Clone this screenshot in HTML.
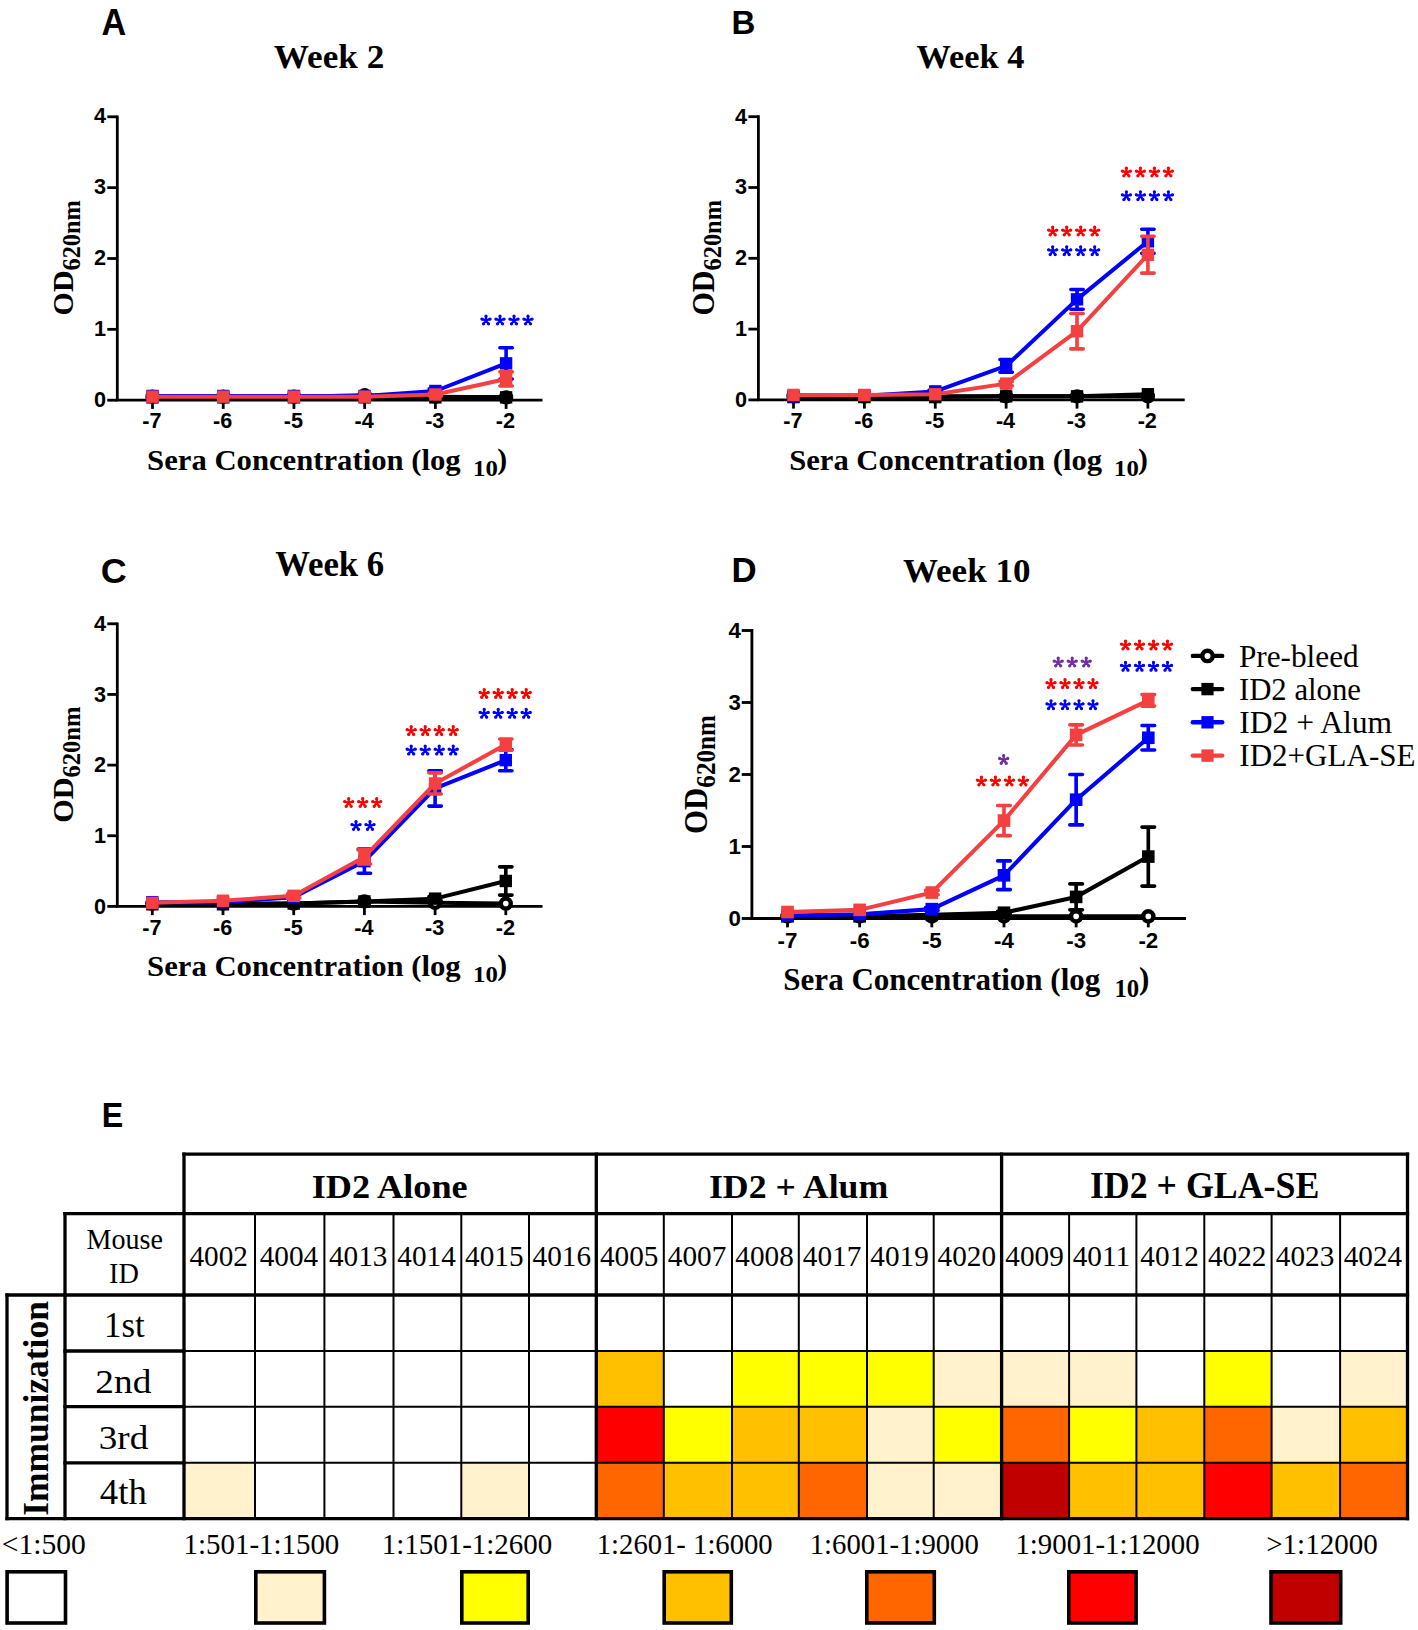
<!DOCTYPE html><html><head><meta charset="utf-8"><title>Figure</title><style>html,body{margin:0;padding:0;background:#fff;width:1418px;height:1630px;overflow:hidden}svg{display:block}</style></head><body>
<svg width="1418" height="1630" viewBox="0 0 1418 1630">
<rect width="1418" height="1630" fill="#fff"/>
<text transform="translate(101.50,34.60) scale(1.0043,1.0609)" font-family="Liberation Sans" font-weight="bold" font-size="34">A</text>
<text transform="translate(731.56,34.30) scale(0.9714,0.9783)" font-family="Liberation Sans" font-weight="bold" font-size="34">B</text>
<text transform="translate(100.64,583.30) scale(1.0591,1.0348)" font-family="Liberation Sans" font-weight="bold" font-size="34">C</text>
<text transform="translate(731.45,582.20) scale(1.0238,1.0087)" font-family="Liberation Sans" font-weight="bold" font-size="34">D</text>
<text transform="translate(101.71,1127.30) scale(0.9474,1.0522)" font-family="Liberation Sans" font-weight="bold" font-size="34">E</text>
<text transform="translate(273.79,68.00) scale(1.0056,0.9680)" font-family="Liberation Serif" font-weight="bold" font-size="35">Week 2</text>
<text transform="translate(916.52,68.20) scale(0.9815,0.9760)" font-family="Liberation Serif" font-weight="bold" font-size="35">Week 4</text>
<text transform="translate(275.21,576.10) scale(0.9926,1.0120)" font-family="Liberation Serif" font-weight="bold" font-size="35">Week 6</text>
<text transform="translate(902.90,582.20) scale(1.0024,0.9920)" font-family="Liberation Serif" font-weight="bold" font-size="35">Week 10</text>
<text transform="translate(72.70,315.43) scale(1.0423,1.0336) rotate(-90)" font-family="Liberation Serif" font-weight="bold" font-size="29">OD<tspan font-size="23.5" dy="7">620nm</tspan></text>
<text transform="translate(714.02,315.54) scale(1.0538,1.0373) rotate(-90)" font-family="Liberation Serif" font-weight="bold" font-size="29">OD<tspan font-size="23.5" dy="7">620nm</tspan></text>
<text transform="translate(72.70,822.84) scale(1.0423,1.0436) rotate(-90)" font-family="Liberation Serif" font-weight="bold" font-size="29">OD<tspan font-size="23.5" dy="7">620nm</tspan></text>
<text transform="translate(707.08,834.07) scale(1.1308,1.0673) rotate(-90)" font-family="Liberation Serif" font-weight="bold" font-size="29">OD<tspan font-size="23.5" dy="7">620nm</tspan></text>
<text transform="translate(147.08,469.82) scale(1.0588,1.0296)" font-family="Liberation Serif" font-weight="bold" font-size="29">Sera Concentration (log</text>
<text transform="translate(473.10,475.50) scale(1.1000,1.0600)" font-family="Liberation Serif" font-weight="bold" font-size="22.5">10</text>
<text transform="translate(789.19,469.82) scale(1.0561,1.0296)" font-family="Liberation Serif" font-weight="bold" font-size="29">Sera Concentration (log</text>
<text transform="translate(1114.10,475.50) scale(1.1000,1.0600)" font-family="Liberation Serif" font-weight="bold" font-size="22.5">10</text>
<text transform="translate(147.08,976.12) scale(1.0588,1.0296)" font-family="Liberation Serif" font-weight="bold" font-size="29">Sera Concentration (log</text>
<text transform="translate(473.10,981.80) scale(1.1000,1.0600)" font-family="Liberation Serif" font-weight="bold" font-size="22.5">10</text>
<text transform="translate(783.36,990.08) scale(1.0701,1.0704)" font-family="Liberation Serif" font-weight="bold" font-size="29">Sera Concentration (log</text>
<text transform="translate(1114.40,996.50) scale(1.1000,1.1000)" font-family="Liberation Serif" font-weight="bold" font-size="22.5">10</text>
<text transform="translate(497.21,468.96) scale(1.0231,1.0231)" font-family="Liberation Serif" font-weight="bold" font-size="29">)</text>
<text transform="translate(1137.91,468.96) scale(1.0231,1.0231)" font-family="Liberation Serif" font-weight="bold" font-size="29">)</text>
<text transform="translate(497.21,975.26) scale(1.0231,1.0231)" font-family="Liberation Serif" font-weight="bold" font-size="29">)</text>
<text transform="translate(1139.03,989.16) scale(1.0731,1.0731)" font-family="Liberation Serif" font-weight="bold" font-size="29">)</text>
<g stroke="#000" stroke-width="2.80" fill="none">
<path d="M117.30 115.40V400.20M115.90 400.20H542.50"/>
<path d="M107.30 400.20H117.30"/>
<path d="M107.30 329.35H117.30"/>
<path d="M107.30 258.50H117.30"/>
<path d="M107.30 187.65H117.30"/>
<path d="M107.30 116.80H117.30"/>
<path d="M152.50 400.20V408.90"/>
<path d="M223.22 400.20V408.90"/>
<path d="M293.94 400.20V408.90"/>
<path d="M364.66 400.20V408.90"/>
<path d="M435.38 400.20V408.90"/>
<path d="M506.10 400.20V408.90"/>
</g>
<g font-family="Liberation Sans" font-weight="bold" font-size="20" fill="#000">
<text transform="translate(93.98,406.70) scale(1.0830,1.0679)">0</text>
<text transform="translate(93.98,335.85) scale(1.0830,1.0679)">1</text>
<text transform="translate(93.98,265.00) scale(1.0830,1.0679)">2</text>
<text transform="translate(93.98,194.15) scale(1.0830,1.0679)">3</text>
<text transform="translate(93.98,123.30) scale(1.0830,1.0679)">4</text>
<text transform="translate(142.26,428.20) scale(1.0830,1.0679)">-7</text>
<text transform="translate(212.98,428.20) scale(1.0830,1.0679)">-6</text>
<text transform="translate(283.70,428.20) scale(1.0830,1.0679)">-5</text>
<text transform="translate(354.42,428.20) scale(1.0830,1.0679)">-4</text>
<text transform="translate(425.14,428.20) scale(1.0830,1.0679)">-3</text>
<text transform="translate(495.86,428.20) scale(1.0830,1.0679)">-2</text>
</g>
<polyline points="152.50,396.66 223.22,396.66 293.94,396.66 364.66,395.24 435.38,396.66 506.10,397.37" fill="none" stroke="#000000" stroke-width="4.00" stroke-linejoin="round"/>
<circle cx="152.50" cy="396.66" r="5.00" fill="#fff" stroke="#000" stroke-width="4.40"/>
<circle cx="223.22" cy="396.66" r="5.00" fill="#fff" stroke="#000" stroke-width="4.40"/>
<circle cx="293.94" cy="396.66" r="5.00" fill="#fff" stroke="#000" stroke-width="4.40"/>
<circle cx="364.66" cy="395.24" r="5.00" fill="#fff" stroke="#000" stroke-width="4.40"/>
<circle cx="435.38" cy="396.66" r="5.00" fill="#fff" stroke="#000" stroke-width="4.40"/>
<circle cx="506.10" cy="397.37" r="5.00" fill="#fff" stroke="#000" stroke-width="4.40"/>
<polyline points="152.50,397.37 223.22,397.37 293.94,397.37 364.66,397.37 435.38,397.37 506.10,397.37" fill="none" stroke="#000000" stroke-width="4.00" stroke-linejoin="round"/>
<rect x="146.30" y="391.17" width="12.40" height="12.40" fill="#000000"/>
<rect x="217.02" y="391.17" width="12.40" height="12.40" fill="#000000"/>
<rect x="287.74" y="391.17" width="12.40" height="12.40" fill="#000000"/>
<rect x="358.46" y="391.17" width="12.40" height="12.40" fill="#000000"/>
<rect x="429.18" y="391.17" width="12.40" height="12.40" fill="#000000"/>
<rect x="499.90" y="391.17" width="12.40" height="12.40" fill="#000000"/>
<polyline points="152.50,395.95 223.22,395.95 293.94,395.95 364.66,395.95 435.38,390.99 506.10,363.36" fill="none" stroke="#0000ff" stroke-width="4.00" stroke-linejoin="round"/>
<path d="M435.38 388.86V393.12M429.18 388.86H441.58M429.18 393.12H441.58M506.10 347.77V378.94M499.90 347.77H512.30M499.90 378.94H512.30" stroke="#0000ff" stroke-width="3.60" fill="none" stroke-linecap="round"/>
<rect x="146.30" y="389.75" width="12.40" height="12.40" fill="#0000ff"/>
<rect x="217.02" y="389.75" width="12.40" height="12.40" fill="#0000ff"/>
<rect x="287.74" y="389.75" width="12.40" height="12.40" fill="#0000ff"/>
<rect x="358.46" y="389.75" width="12.40" height="12.40" fill="#0000ff"/>
<rect x="429.18" y="384.79" width="12.40" height="12.40" fill="#0000ff"/>
<rect x="499.90" y="357.16" width="12.40" height="12.40" fill="#0000ff"/>
<polyline points="152.50,396.66 223.22,396.66 293.94,396.66 364.66,396.66 435.38,394.53 506.10,378.94" fill="none" stroke="#f44040" stroke-width="4.00" stroke-linejoin="round"/>
<path d="M435.38 393.12V395.95M429.18 393.12H441.58M429.18 395.95H441.58M506.10 371.86V386.03M499.90 371.86H512.30M499.90 386.03H512.30" stroke="#f44040" stroke-width="3.60" fill="none" stroke-linecap="round"/>
<rect x="146.30" y="390.46" width="12.40" height="12.40" fill="#f44040"/>
<rect x="217.02" y="390.46" width="12.40" height="12.40" fill="#f44040"/>
<rect x="287.74" y="390.46" width="12.40" height="12.40" fill="#f44040"/>
<rect x="358.46" y="390.46" width="12.40" height="12.40" fill="#f44040"/>
<rect x="429.18" y="388.33" width="12.40" height="12.40" fill="#f44040"/>
<rect x="499.90" y="372.75" width="12.40" height="12.40" fill="#f44040"/>
<g stroke="#000" stroke-width="2.80" fill="none">
<path d="M758.40 115.30V399.90M757.00 399.90H1184.70"/>
<path d="M748.40 399.90H758.40"/>
<path d="M748.40 329.10H758.40"/>
<path d="M748.40 258.30H758.40"/>
<path d="M748.40 187.50H758.40"/>
<path d="M748.40 116.70H758.40"/>
<path d="M793.50 399.90V408.60"/>
<path d="M864.38 399.90V408.60"/>
<path d="M935.26 399.90V408.60"/>
<path d="M1006.14 399.90V408.60"/>
<path d="M1077.02 399.90V408.60"/>
<path d="M1147.90 399.90V408.60"/>
</g>
<g font-family="Liberation Sans" font-weight="bold" font-size="20" fill="#000">
<text transform="translate(734.98,406.70) scale(1.0830,1.0679)">0</text>
<text transform="translate(734.98,335.90) scale(1.0830,1.0679)">1</text>
<text transform="translate(734.98,265.10) scale(1.0830,1.0679)">2</text>
<text transform="translate(734.98,194.30) scale(1.0830,1.0679)">3</text>
<text transform="translate(734.98,123.50) scale(1.0830,1.0679)">4</text>
<text transform="translate(783.26,428.20) scale(1.0830,1.0679)">-7</text>
<text transform="translate(854.14,428.20) scale(1.0830,1.0679)">-6</text>
<text transform="translate(925.02,428.20) scale(1.0830,1.0679)">-5</text>
<text transform="translate(995.90,428.20) scale(1.0830,1.0679)">-4</text>
<text transform="translate(1066.78,428.20) scale(1.0830,1.0679)">-3</text>
<text transform="translate(1137.66,428.20) scale(1.0830,1.0679)">-2</text>
</g>
<polyline points="793.50,396.36 864.38,396.36 935.26,396.36 1006.14,396.36 1077.02,396.36 1147.90,396.36" fill="none" stroke="#000000" stroke-width="4.00" stroke-linejoin="round"/>
<circle cx="793.50" cy="396.36" r="5.00" fill="#fff" stroke="#000" stroke-width="4.40"/>
<circle cx="864.38" cy="396.36" r="5.00" fill="#fff" stroke="#000" stroke-width="4.40"/>
<circle cx="935.26" cy="396.36" r="5.00" fill="#fff" stroke="#000" stroke-width="4.40"/>
<circle cx="1006.14" cy="396.36" r="5.00" fill="#fff" stroke="#000" stroke-width="4.40"/>
<circle cx="1077.02" cy="396.36" r="5.00" fill="#fff" stroke="#000" stroke-width="4.40"/>
<circle cx="1147.90" cy="396.36" r="5.00" fill="#fff" stroke="#000" stroke-width="4.40"/>
<polyline points="793.50,397.07 864.38,397.07 935.26,397.07 1006.14,396.36 1077.02,396.36 1147.90,394.24" fill="none" stroke="#000000" stroke-width="4.00" stroke-linejoin="round"/>
<rect x="787.30" y="390.87" width="12.40" height="12.40" fill="#000000"/>
<rect x="858.18" y="390.87" width="12.40" height="12.40" fill="#000000"/>
<rect x="929.06" y="390.87" width="12.40" height="12.40" fill="#000000"/>
<rect x="999.94" y="390.16" width="12.40" height="12.40" fill="#000000"/>
<rect x="1070.82" y="390.16" width="12.40" height="12.40" fill="#000000"/>
<rect x="1141.70" y="388.04" width="12.40" height="12.40" fill="#000000"/>
<polyline points="793.50,396.36 864.38,395.65 935.26,391.40 1006.14,365.92 1077.02,299.36 1147.90,241.31" fill="none" stroke="#0000ff" stroke-width="4.00" stroke-linejoin="round"/>
<path d="M935.26 389.99V392.82M929.06 389.99H941.46M929.06 392.82H941.46M1006.14 359.54V372.29M999.94 359.54H1012.34M999.94 372.29H1012.34M1077.02 289.45V309.28M1070.82 289.45H1083.22M1070.82 309.28H1083.22M1147.90 229.27V253.34M1141.70 229.27H1154.10M1141.70 253.34H1154.10" stroke="#0000ff" stroke-width="3.60" fill="none" stroke-linecap="round"/>
<rect x="787.30" y="390.16" width="12.40" height="12.40" fill="#0000ff"/>
<rect x="858.18" y="389.45" width="12.40" height="12.40" fill="#0000ff"/>
<rect x="929.06" y="385.20" width="12.40" height="12.40" fill="#0000ff"/>
<rect x="999.94" y="359.72" width="12.40" height="12.40" fill="#0000ff"/>
<rect x="1070.82" y="293.16" width="12.40" height="12.40" fill="#0000ff"/>
<rect x="1141.70" y="235.11" width="12.40" height="12.40" fill="#0000ff"/>
<polyline points="793.50,394.94 864.38,394.94 935.26,394.24 1006.14,383.62 1077.02,331.22 1147.90,254.76" fill="none" stroke="#f44040" stroke-width="4.00" stroke-linejoin="round"/>
<path d="M1006.14 381.49V385.74M999.94 381.49H1012.34M999.94 385.74H1012.34M1077.02 313.52V348.92M1070.82 313.52H1083.22M1070.82 348.92H1083.22M1147.90 236.35V273.17M1141.70 236.35H1154.10M1141.70 273.17H1154.10" stroke="#f44040" stroke-width="3.60" fill="none" stroke-linecap="round"/>
<rect x="787.30" y="388.74" width="12.40" height="12.40" fill="#f44040"/>
<rect x="858.18" y="388.74" width="12.40" height="12.40" fill="#f44040"/>
<rect x="929.06" y="388.04" width="12.40" height="12.40" fill="#f44040"/>
<rect x="999.94" y="377.42" width="12.40" height="12.40" fill="#f44040"/>
<rect x="1070.82" y="325.02" width="12.40" height="12.40" fill="#f44040"/>
<rect x="1141.70" y="248.56" width="12.40" height="12.40" fill="#f44040"/>
<g stroke="#000" stroke-width="2.80" fill="none">
<path d="M117.30 622.40V906.40M115.90 906.40H542.50"/>
<path d="M107.30 906.40H117.30"/>
<path d="M107.30 835.75H117.30"/>
<path d="M107.30 765.10H117.30"/>
<path d="M107.30 694.45H117.30"/>
<path d="M107.30 623.80H117.30"/>
<path d="M152.30 906.40V915.10"/>
<path d="M223.00 906.40V915.10"/>
<path d="M293.70 906.40V915.10"/>
<path d="M364.40 906.40V915.10"/>
<path d="M435.10 906.40V915.10"/>
<path d="M505.80 906.40V915.10"/>
</g>
<g font-family="Liberation Sans" font-weight="bold" font-size="20" fill="#000">
<text transform="translate(93.98,913.50) scale(1.0830,1.0679)">0</text>
<text transform="translate(93.98,842.85) scale(1.0830,1.0679)">1</text>
<text transform="translate(93.98,772.20) scale(1.0830,1.0679)">2</text>
<text transform="translate(93.98,701.55) scale(1.0830,1.0679)">3</text>
<text transform="translate(93.98,630.90) scale(1.0830,1.0679)">4</text>
<text transform="translate(142.26,935.00) scale(1.0830,1.0679)">-7</text>
<text transform="translate(212.96,935.00) scale(1.0830,1.0679)">-6</text>
<text transform="translate(283.66,935.00) scale(1.0830,1.0679)">-5</text>
<text transform="translate(354.36,935.00) scale(1.0830,1.0679)">-4</text>
<text transform="translate(425.06,935.00) scale(1.0830,1.0679)">-3</text>
<text transform="translate(495.76,935.00) scale(1.0830,1.0679)">-2</text>
</g>
<polyline points="152.30,903.57 223.00,903.57 293.70,903.57 364.40,901.45 435.10,902.87 505.80,903.57" fill="none" stroke="#000000" stroke-width="4.00" stroke-linejoin="round"/>
<circle cx="152.30" cy="903.57" r="5.00" fill="#fff" stroke="#000" stroke-width="4.40"/>
<circle cx="223.00" cy="903.57" r="5.00" fill="#fff" stroke="#000" stroke-width="4.40"/>
<circle cx="293.70" cy="903.57" r="5.00" fill="#fff" stroke="#000" stroke-width="4.40"/>
<circle cx="364.40" cy="901.45" r="5.00" fill="#fff" stroke="#000" stroke-width="4.40"/>
<circle cx="435.10" cy="902.87" r="5.00" fill="#fff" stroke="#000" stroke-width="4.40"/>
<circle cx="505.80" cy="903.57" r="5.00" fill="#fff" stroke="#000" stroke-width="4.40"/>
<polyline points="152.30,904.28 223.00,904.28 293.70,903.57 364.40,901.45 435.10,898.63 505.80,880.97" fill="none" stroke="#000000" stroke-width="4.00" stroke-linejoin="round"/>
<path d="M435.10 896.51V900.75M428.90 896.51H441.30M428.90 900.75H441.30M505.80 866.84V895.10M499.60 866.84H512.00M499.60 895.10H512.00" stroke="#000000" stroke-width="3.60" fill="none" stroke-linecap="round"/>
<rect x="146.10" y="898.08" width="12.40" height="12.40" fill="#000000"/>
<rect x="216.80" y="898.08" width="12.40" height="12.40" fill="#000000"/>
<rect x="287.50" y="897.37" width="12.40" height="12.40" fill="#000000"/>
<rect x="358.20" y="895.25" width="12.40" height="12.40" fill="#000000"/>
<rect x="428.90" y="892.43" width="12.40" height="12.40" fill="#000000"/>
<rect x="499.60" y="874.77" width="12.40" height="12.40" fill="#000000"/>
<polyline points="152.30,902.16 223.00,902.16 293.70,897.22 364.40,861.18 435.10,788.41 505.80,760.15" fill="none" stroke="#0000ff" stroke-width="4.00" stroke-linejoin="round"/>
<path d="M364.40 849.17V873.19M358.20 849.17H370.60M358.20 873.19H370.60M435.10 770.75V806.08M428.90 770.75H441.30M428.90 806.08H441.30M505.80 749.56V770.75M499.60 749.56H512.00M499.60 770.75H512.00" stroke="#0000ff" stroke-width="3.60" fill="none" stroke-linecap="round"/>
<rect x="146.10" y="895.96" width="12.40" height="12.40" fill="#0000ff"/>
<rect x="216.80" y="895.96" width="12.40" height="12.40" fill="#0000ff"/>
<rect x="287.50" y="891.02" width="12.40" height="12.40" fill="#0000ff"/>
<rect x="358.20" y="854.98" width="12.40" height="12.40" fill="#0000ff"/>
<rect x="428.90" y="782.21" width="12.40" height="12.40" fill="#0000ff"/>
<rect x="499.60" y="753.95" width="12.40" height="12.40" fill="#0000ff"/>
<polyline points="152.30,902.87 223.00,900.75 293.70,895.80 364.40,856.94 435.10,783.47 505.80,744.61" fill="none" stroke="#f44040" stroke-width="4.00" stroke-linejoin="round"/>
<path d="M293.70 893.68V897.92M287.50 893.68H299.90M287.50 897.92H299.90M364.40 849.88V864.01M358.20 849.88H370.60M358.20 864.01H370.60M435.10 772.87V794.07M428.90 772.87H441.30M428.90 794.07H441.30M505.80 738.96V750.26M499.60 738.96H512.00M499.60 750.26H512.00" stroke="#f44040" stroke-width="3.60" fill="none" stroke-linecap="round"/>
<rect x="146.10" y="896.67" width="12.40" height="12.40" fill="#f44040"/>
<rect x="216.80" y="894.55" width="12.40" height="12.40" fill="#f44040"/>
<rect x="287.50" y="889.60" width="12.40" height="12.40" fill="#f44040"/>
<rect x="358.20" y="850.74" width="12.40" height="12.40" fill="#f44040"/>
<rect x="428.90" y="777.27" width="12.40" height="12.40" fill="#f44040"/>
<rect x="499.60" y="738.41" width="12.40" height="12.40" fill="#f44040"/>
<g stroke="#000" stroke-width="2.85" fill="none">
<path d="M751.90 629.10V918.50M750.50 918.50H1186.00"/>
<path d="M741.73 918.50H751.90"/>
<path d="M741.73 846.50H751.90"/>
<path d="M741.73 774.50H751.90"/>
<path d="M741.73 702.50H751.90"/>
<path d="M741.73 630.50H751.90"/>
<path d="M787.50 918.50V927.35"/>
<path d="M859.66 918.50V927.35"/>
<path d="M931.82 918.50V927.35"/>
<path d="M1003.98 918.50V927.35"/>
<path d="M1076.14 918.50V927.35"/>
<path d="M1148.30 918.50V927.35"/>
</g>
<g font-family="Liberation Sans" font-weight="bold" font-size="20" fill="#000">
<text transform="translate(728.44,926.00) scale(1.1153,1.1214)">0</text>
<text transform="translate(728.44,854.00) scale(1.1153,1.1214)">1</text>
<text transform="translate(728.44,782.00) scale(1.1153,1.1214)">2</text>
<text transform="translate(728.44,710.00) scale(1.1153,1.1214)">3</text>
<text transform="translate(728.44,638.00) scale(1.1153,1.1214)">4</text>
<text transform="translate(777.62,948.00) scale(1.1153,1.1214)">-7</text>
<text transform="translate(849.78,948.00) scale(1.1153,1.1214)">-6</text>
<text transform="translate(921.94,948.00) scale(1.1153,1.1214)">-5</text>
<text transform="translate(994.11,948.00) scale(1.1153,1.1214)">-4</text>
<text transform="translate(1066.26,948.00) scale(1.1153,1.1214)">-3</text>
<text transform="translate(1138.42,948.00) scale(1.1153,1.1214)">-2</text>
</g>
<polyline points="787.50,916.34 859.66,916.34 931.82,916.34 1003.98,916.34 1076.14,916.34 1148.30,916.34" fill="none" stroke="#000000" stroke-width="4.07" stroke-linejoin="round"/>
<circle cx="787.50" cy="916.34" r="5.08" fill="#fff" stroke="#000" stroke-width="4.47"/>
<circle cx="859.66" cy="916.34" r="5.08" fill="#fff" stroke="#000" stroke-width="4.47"/>
<circle cx="931.82" cy="916.34" r="5.08" fill="#fff" stroke="#000" stroke-width="4.47"/>
<circle cx="1003.98" cy="916.34" r="5.08" fill="#fff" stroke="#000" stroke-width="4.47"/>
<circle cx="1076.14" cy="916.34" r="5.08" fill="#fff" stroke="#000" stroke-width="4.47"/>
<circle cx="1148.30" cy="916.34" r="5.08" fill="#fff" stroke="#000" stroke-width="4.47"/>
<polyline points="787.50,916.34 859.66,916.34 931.82,914.90 1003.98,912.74 1076.14,896.90 1148.30,856.58" fill="none" stroke="#000000" stroke-width="4.07" stroke-linejoin="round"/>
<path d="M1003.98 911.30V914.18M997.67 911.30H1010.29M997.67 914.18H1010.29M1076.14 883.94V909.86M1069.83 883.94H1082.45M1069.83 909.86H1082.45M1148.30 827.06V886.10M1141.99 827.06H1154.61M1141.99 886.10H1154.61" stroke="#000000" stroke-width="3.66" fill="none" stroke-linecap="round"/>
<rect x="781.19" y="910.03" width="12.61" height="12.61" fill="#000000"/>
<rect x="853.35" y="910.03" width="12.61" height="12.61" fill="#000000"/>
<rect x="925.51" y="908.59" width="12.61" height="12.61" fill="#000000"/>
<rect x="997.67" y="906.43" width="12.61" height="12.61" fill="#000000"/>
<rect x="1069.83" y="890.59" width="12.61" height="12.61" fill="#000000"/>
<rect x="1141.99" y="850.27" width="12.61" height="12.61" fill="#000000"/>
<polyline points="787.50,915.62 859.66,914.18 931.82,909.14 1003.98,875.30 1076.14,799.70 1148.30,737.78" fill="none" stroke="#0000ff" stroke-width="4.07" stroke-linejoin="round"/>
<path d="M931.82 907.70V910.58M925.51 907.70H938.13M925.51 910.58H938.13M1003.98 860.90V889.70M997.67 860.90H1010.29M997.67 889.70H1010.29M1076.14 774.50V824.90M1069.83 774.50H1082.45M1069.83 824.90H1082.45M1148.30 725.54V750.02M1141.99 725.54H1154.61M1141.99 750.02H1154.61" stroke="#0000ff" stroke-width="3.66" fill="none" stroke-linecap="round"/>
<rect x="781.19" y="909.31" width="12.61" height="12.61" fill="#0000ff"/>
<rect x="853.35" y="907.87" width="12.61" height="12.61" fill="#0000ff"/>
<rect x="925.51" y="902.83" width="12.61" height="12.61" fill="#0000ff"/>
<rect x="997.67" y="868.99" width="12.61" height="12.61" fill="#0000ff"/>
<rect x="1069.83" y="793.39" width="12.61" height="12.61" fill="#0000ff"/>
<rect x="1141.99" y="731.47" width="12.61" height="12.61" fill="#0000ff"/>
<polyline points="787.50,912.02 859.66,909.86 931.82,892.58 1003.98,820.58 1076.14,734.90 1148.30,700.34" fill="none" stroke="#f44040" stroke-width="4.07" stroke-linejoin="round"/>
<path d="M931.82 890.42V894.74M925.51 890.42H938.13M925.51 894.74H938.13M1003.98 805.46V835.70M997.67 805.46H1010.29M997.67 835.70H1010.29M1076.14 724.82V744.98M1069.83 724.82H1082.45M1069.83 744.98H1082.45M1148.30 694.58V706.10M1141.99 694.58H1154.61M1141.99 706.10H1154.61" stroke="#f44040" stroke-width="3.66" fill="none" stroke-linecap="round"/>
<rect x="781.19" y="905.71" width="12.61" height="12.61" fill="#f44040"/>
<rect x="853.35" y="903.55" width="12.61" height="12.61" fill="#f44040"/>
<rect x="925.51" y="886.27" width="12.61" height="12.61" fill="#f44040"/>
<rect x="997.67" y="814.27" width="12.61" height="12.61" fill="#f44040"/>
<rect x="1069.83" y="728.59" width="12.61" height="12.61" fill="#f44040"/>
<rect x="1141.99" y="694.03" width="12.61" height="12.61" fill="#f44040"/>
<path d="M486.00 320.40L486.00 316.15M486.00 320.40L490.04 319.09M486.00 320.40L488.50 323.84M486.00 320.40L483.50 323.84M486.00 320.40L481.96 319.09M500.00 320.40L500.00 316.15M500.00 320.40L504.04 319.09M500.00 320.40L502.50 323.84M500.00 320.40L497.50 323.84M500.00 320.40L495.96 319.09M514.00 320.40L514.00 316.15M514.00 320.40L518.04 319.09M514.00 320.40L516.50 323.84M514.00 320.40L511.50 323.84M514.00 320.40L509.96 319.09M528.00 320.40L528.00 316.15M528.00 320.40L532.04 319.09M528.00 320.40L530.50 323.84M528.00 320.40L525.50 323.84M528.00 320.40L523.96 319.09" stroke="#0000ff" stroke-width="2.3" stroke-linecap="round" fill="none"/><path d="M484.35 316.15a1.65 1.65 0 1 0 3.30 0a1.65 1.65 0 1 0 -3.30 0M488.39 319.09a1.65 1.65 0 1 0 3.30 0a1.65 1.65 0 1 0 -3.30 0M486.85 323.84a1.65 1.65 0 1 0 3.30 0a1.65 1.65 0 1 0 -3.30 0M481.85 323.84a1.65 1.65 0 1 0 3.30 0a1.65 1.65 0 1 0 -3.30 0M480.31 319.09a1.65 1.65 0 1 0 3.30 0a1.65 1.65 0 1 0 -3.30 0M498.35 316.15a1.65 1.65 0 1 0 3.30 0a1.65 1.65 0 1 0 -3.30 0M502.39 319.09a1.65 1.65 0 1 0 3.30 0a1.65 1.65 0 1 0 -3.30 0M500.85 323.84a1.65 1.65 0 1 0 3.30 0a1.65 1.65 0 1 0 -3.30 0M495.85 323.84a1.65 1.65 0 1 0 3.30 0a1.65 1.65 0 1 0 -3.30 0M494.31 319.09a1.65 1.65 0 1 0 3.30 0a1.65 1.65 0 1 0 -3.30 0M512.35 316.15a1.65 1.65 0 1 0 3.30 0a1.65 1.65 0 1 0 -3.30 0M516.39 319.09a1.65 1.65 0 1 0 3.30 0a1.65 1.65 0 1 0 -3.30 0M514.85 323.84a1.65 1.65 0 1 0 3.30 0a1.65 1.65 0 1 0 -3.30 0M509.85 323.84a1.65 1.65 0 1 0 3.30 0a1.65 1.65 0 1 0 -3.30 0M508.31 319.09a1.65 1.65 0 1 0 3.30 0a1.65 1.65 0 1 0 -3.30 0M526.35 316.15a1.65 1.65 0 1 0 3.30 0a1.65 1.65 0 1 0 -3.30 0M530.39 319.09a1.65 1.65 0 1 0 3.30 0a1.65 1.65 0 1 0 -3.30 0M528.85 323.84a1.65 1.65 0 1 0 3.30 0a1.65 1.65 0 1 0 -3.30 0M523.85 323.84a1.65 1.65 0 1 0 3.30 0a1.65 1.65 0 1 0 -3.30 0M522.31 319.09a1.65 1.65 0 1 0 3.30 0a1.65 1.65 0 1 0 -3.30 0" fill="#0000ff"/>
<path d="M1052.70 231.40L1052.70 227.15M1052.70 231.40L1056.74 230.09M1052.70 231.40L1055.20 234.84M1052.70 231.40L1050.20 234.84M1052.70 231.40L1048.66 230.09M1066.70 231.40L1066.70 227.15M1066.70 231.40L1070.74 230.09M1066.70 231.40L1069.20 234.84M1066.70 231.40L1064.20 234.84M1066.70 231.40L1062.66 230.09M1080.70 231.40L1080.70 227.15M1080.70 231.40L1084.74 230.09M1080.70 231.40L1083.20 234.84M1080.70 231.40L1078.20 234.84M1080.70 231.40L1076.66 230.09M1094.70 231.40L1094.70 227.15M1094.70 231.40L1098.74 230.09M1094.70 231.40L1097.20 234.84M1094.70 231.40L1092.20 234.84M1094.70 231.40L1090.66 230.09" stroke="#ff0000" stroke-width="2.3" stroke-linecap="round" fill="none"/><path d="M1051.05 227.15a1.65 1.65 0 1 0 3.30 0a1.65 1.65 0 1 0 -3.30 0M1055.09 230.09a1.65 1.65 0 1 0 3.30 0a1.65 1.65 0 1 0 -3.30 0M1053.55 234.84a1.65 1.65 0 1 0 3.30 0a1.65 1.65 0 1 0 -3.30 0M1048.55 234.84a1.65 1.65 0 1 0 3.30 0a1.65 1.65 0 1 0 -3.30 0M1047.01 230.09a1.65 1.65 0 1 0 3.30 0a1.65 1.65 0 1 0 -3.30 0M1065.05 227.15a1.65 1.65 0 1 0 3.30 0a1.65 1.65 0 1 0 -3.30 0M1069.09 230.09a1.65 1.65 0 1 0 3.30 0a1.65 1.65 0 1 0 -3.30 0M1067.55 234.84a1.65 1.65 0 1 0 3.30 0a1.65 1.65 0 1 0 -3.30 0M1062.55 234.84a1.65 1.65 0 1 0 3.30 0a1.65 1.65 0 1 0 -3.30 0M1061.01 230.09a1.65 1.65 0 1 0 3.30 0a1.65 1.65 0 1 0 -3.30 0M1079.05 227.15a1.65 1.65 0 1 0 3.30 0a1.65 1.65 0 1 0 -3.30 0M1083.09 230.09a1.65 1.65 0 1 0 3.30 0a1.65 1.65 0 1 0 -3.30 0M1081.55 234.84a1.65 1.65 0 1 0 3.30 0a1.65 1.65 0 1 0 -3.30 0M1076.55 234.84a1.65 1.65 0 1 0 3.30 0a1.65 1.65 0 1 0 -3.30 0M1075.01 230.09a1.65 1.65 0 1 0 3.30 0a1.65 1.65 0 1 0 -3.30 0M1093.05 227.15a1.65 1.65 0 1 0 3.30 0a1.65 1.65 0 1 0 -3.30 0M1097.09 230.09a1.65 1.65 0 1 0 3.30 0a1.65 1.65 0 1 0 -3.30 0M1095.55 234.84a1.65 1.65 0 1 0 3.30 0a1.65 1.65 0 1 0 -3.30 0M1090.55 234.84a1.65 1.65 0 1 0 3.30 0a1.65 1.65 0 1 0 -3.30 0M1089.01 230.09a1.65 1.65 0 1 0 3.30 0a1.65 1.65 0 1 0 -3.30 0" fill="#ff0000"/>
<path d="M1052.70 251.10L1052.70 246.85M1052.70 251.10L1056.74 249.79M1052.70 251.10L1055.20 254.54M1052.70 251.10L1050.20 254.54M1052.70 251.10L1048.66 249.79M1066.70 251.10L1066.70 246.85M1066.70 251.10L1070.74 249.79M1066.70 251.10L1069.20 254.54M1066.70 251.10L1064.20 254.54M1066.70 251.10L1062.66 249.79M1080.70 251.10L1080.70 246.85M1080.70 251.10L1084.74 249.79M1080.70 251.10L1083.20 254.54M1080.70 251.10L1078.20 254.54M1080.70 251.10L1076.66 249.79M1094.70 251.10L1094.70 246.85M1094.70 251.10L1098.74 249.79M1094.70 251.10L1097.20 254.54M1094.70 251.10L1092.20 254.54M1094.70 251.10L1090.66 249.79" stroke="#0000ff" stroke-width="2.3" stroke-linecap="round" fill="none"/><path d="M1051.05 246.85a1.65 1.65 0 1 0 3.30 0a1.65 1.65 0 1 0 -3.30 0M1055.09 249.79a1.65 1.65 0 1 0 3.30 0a1.65 1.65 0 1 0 -3.30 0M1053.55 254.54a1.65 1.65 0 1 0 3.30 0a1.65 1.65 0 1 0 -3.30 0M1048.55 254.54a1.65 1.65 0 1 0 3.30 0a1.65 1.65 0 1 0 -3.30 0M1047.01 249.79a1.65 1.65 0 1 0 3.30 0a1.65 1.65 0 1 0 -3.30 0M1065.05 246.85a1.65 1.65 0 1 0 3.30 0a1.65 1.65 0 1 0 -3.30 0M1069.09 249.79a1.65 1.65 0 1 0 3.30 0a1.65 1.65 0 1 0 -3.30 0M1067.55 254.54a1.65 1.65 0 1 0 3.30 0a1.65 1.65 0 1 0 -3.30 0M1062.55 254.54a1.65 1.65 0 1 0 3.30 0a1.65 1.65 0 1 0 -3.30 0M1061.01 249.79a1.65 1.65 0 1 0 3.30 0a1.65 1.65 0 1 0 -3.30 0M1079.05 246.85a1.65 1.65 0 1 0 3.30 0a1.65 1.65 0 1 0 -3.30 0M1083.09 249.79a1.65 1.65 0 1 0 3.30 0a1.65 1.65 0 1 0 -3.30 0M1081.55 254.54a1.65 1.65 0 1 0 3.30 0a1.65 1.65 0 1 0 -3.30 0M1076.55 254.54a1.65 1.65 0 1 0 3.30 0a1.65 1.65 0 1 0 -3.30 0M1075.01 249.79a1.65 1.65 0 1 0 3.30 0a1.65 1.65 0 1 0 -3.30 0M1093.05 246.85a1.65 1.65 0 1 0 3.30 0a1.65 1.65 0 1 0 -3.30 0M1097.09 249.79a1.65 1.65 0 1 0 3.30 0a1.65 1.65 0 1 0 -3.30 0M1095.55 254.54a1.65 1.65 0 1 0 3.30 0a1.65 1.65 0 1 0 -3.30 0M1090.55 254.54a1.65 1.65 0 1 0 3.30 0a1.65 1.65 0 1 0 -3.30 0M1089.01 249.79a1.65 1.65 0 1 0 3.30 0a1.65 1.65 0 1 0 -3.30 0" fill="#0000ff"/>
<path d="M1126.40 172.40L1126.40 168.15M1126.40 172.40L1130.44 171.09M1126.40 172.40L1128.90 175.84M1126.40 172.40L1123.90 175.84M1126.40 172.40L1122.36 171.09M1140.40 172.40L1140.40 168.15M1140.40 172.40L1144.44 171.09M1140.40 172.40L1142.90 175.84M1140.40 172.40L1137.90 175.84M1140.40 172.40L1136.36 171.09M1154.40 172.40L1154.40 168.15M1154.40 172.40L1158.44 171.09M1154.40 172.40L1156.90 175.84M1154.40 172.40L1151.90 175.84M1154.40 172.40L1150.36 171.09M1168.40 172.40L1168.40 168.15M1168.40 172.40L1172.44 171.09M1168.40 172.40L1170.90 175.84M1168.40 172.40L1165.90 175.84M1168.40 172.40L1164.36 171.09" stroke="#ff0000" stroke-width="2.3" stroke-linecap="round" fill="none"/><path d="M1124.75 168.15a1.65 1.65 0 1 0 3.30 0a1.65 1.65 0 1 0 -3.30 0M1128.79 171.09a1.65 1.65 0 1 0 3.30 0a1.65 1.65 0 1 0 -3.30 0M1127.25 175.84a1.65 1.65 0 1 0 3.30 0a1.65 1.65 0 1 0 -3.30 0M1122.25 175.84a1.65 1.65 0 1 0 3.30 0a1.65 1.65 0 1 0 -3.30 0M1120.71 171.09a1.65 1.65 0 1 0 3.30 0a1.65 1.65 0 1 0 -3.30 0M1138.75 168.15a1.65 1.65 0 1 0 3.30 0a1.65 1.65 0 1 0 -3.30 0M1142.79 171.09a1.65 1.65 0 1 0 3.30 0a1.65 1.65 0 1 0 -3.30 0M1141.25 175.84a1.65 1.65 0 1 0 3.30 0a1.65 1.65 0 1 0 -3.30 0M1136.25 175.84a1.65 1.65 0 1 0 3.30 0a1.65 1.65 0 1 0 -3.30 0M1134.71 171.09a1.65 1.65 0 1 0 3.30 0a1.65 1.65 0 1 0 -3.30 0M1152.75 168.15a1.65 1.65 0 1 0 3.30 0a1.65 1.65 0 1 0 -3.30 0M1156.79 171.09a1.65 1.65 0 1 0 3.30 0a1.65 1.65 0 1 0 -3.30 0M1155.25 175.84a1.65 1.65 0 1 0 3.30 0a1.65 1.65 0 1 0 -3.30 0M1150.25 175.84a1.65 1.65 0 1 0 3.30 0a1.65 1.65 0 1 0 -3.30 0M1148.71 171.09a1.65 1.65 0 1 0 3.30 0a1.65 1.65 0 1 0 -3.30 0M1166.75 168.15a1.65 1.65 0 1 0 3.30 0a1.65 1.65 0 1 0 -3.30 0M1170.79 171.09a1.65 1.65 0 1 0 3.30 0a1.65 1.65 0 1 0 -3.30 0M1169.25 175.84a1.65 1.65 0 1 0 3.30 0a1.65 1.65 0 1 0 -3.30 0M1164.25 175.84a1.65 1.65 0 1 0 3.30 0a1.65 1.65 0 1 0 -3.30 0M1162.71 171.09a1.65 1.65 0 1 0 3.30 0a1.65 1.65 0 1 0 -3.30 0" fill="#ff0000"/>
<path d="M1126.40 196.10L1126.40 191.85M1126.40 196.10L1130.44 194.79M1126.40 196.10L1128.90 199.54M1126.40 196.10L1123.90 199.54M1126.40 196.10L1122.36 194.79M1140.40 196.10L1140.40 191.85M1140.40 196.10L1144.44 194.79M1140.40 196.10L1142.90 199.54M1140.40 196.10L1137.90 199.54M1140.40 196.10L1136.36 194.79M1154.40 196.10L1154.40 191.85M1154.40 196.10L1158.44 194.79M1154.40 196.10L1156.90 199.54M1154.40 196.10L1151.90 199.54M1154.40 196.10L1150.36 194.79M1168.40 196.10L1168.40 191.85M1168.40 196.10L1172.44 194.79M1168.40 196.10L1170.90 199.54M1168.40 196.10L1165.90 199.54M1168.40 196.10L1164.36 194.79" stroke="#0000ff" stroke-width="2.3" stroke-linecap="round" fill="none"/><path d="M1124.75 191.85a1.65 1.65 0 1 0 3.30 0a1.65 1.65 0 1 0 -3.30 0M1128.79 194.79a1.65 1.65 0 1 0 3.30 0a1.65 1.65 0 1 0 -3.30 0M1127.25 199.54a1.65 1.65 0 1 0 3.30 0a1.65 1.65 0 1 0 -3.30 0M1122.25 199.54a1.65 1.65 0 1 0 3.30 0a1.65 1.65 0 1 0 -3.30 0M1120.71 194.79a1.65 1.65 0 1 0 3.30 0a1.65 1.65 0 1 0 -3.30 0M1138.75 191.85a1.65 1.65 0 1 0 3.30 0a1.65 1.65 0 1 0 -3.30 0M1142.79 194.79a1.65 1.65 0 1 0 3.30 0a1.65 1.65 0 1 0 -3.30 0M1141.25 199.54a1.65 1.65 0 1 0 3.30 0a1.65 1.65 0 1 0 -3.30 0M1136.25 199.54a1.65 1.65 0 1 0 3.30 0a1.65 1.65 0 1 0 -3.30 0M1134.71 194.79a1.65 1.65 0 1 0 3.30 0a1.65 1.65 0 1 0 -3.30 0M1152.75 191.85a1.65 1.65 0 1 0 3.30 0a1.65 1.65 0 1 0 -3.30 0M1156.79 194.79a1.65 1.65 0 1 0 3.30 0a1.65 1.65 0 1 0 -3.30 0M1155.25 199.54a1.65 1.65 0 1 0 3.30 0a1.65 1.65 0 1 0 -3.30 0M1150.25 199.54a1.65 1.65 0 1 0 3.30 0a1.65 1.65 0 1 0 -3.30 0M1148.71 194.79a1.65 1.65 0 1 0 3.30 0a1.65 1.65 0 1 0 -3.30 0M1166.75 191.85a1.65 1.65 0 1 0 3.30 0a1.65 1.65 0 1 0 -3.30 0M1170.79 194.79a1.65 1.65 0 1 0 3.30 0a1.65 1.65 0 1 0 -3.30 0M1169.25 199.54a1.65 1.65 0 1 0 3.30 0a1.65 1.65 0 1 0 -3.30 0M1164.25 199.54a1.65 1.65 0 1 0 3.30 0a1.65 1.65 0 1 0 -3.30 0M1162.71 194.79a1.65 1.65 0 1 0 3.30 0a1.65 1.65 0 1 0 -3.30 0" fill="#0000ff"/>
<path d="M348.70 802.90L348.70 798.65M348.70 802.90L352.74 801.59M348.70 802.90L351.20 806.34M348.70 802.90L346.20 806.34M348.70 802.90L344.66 801.59M362.70 802.90L362.70 798.65M362.70 802.90L366.74 801.59M362.70 802.90L365.20 806.34M362.70 802.90L360.20 806.34M362.70 802.90L358.66 801.59M376.70 802.90L376.70 798.65M376.70 802.90L380.74 801.59M376.70 802.90L379.20 806.34M376.70 802.90L374.20 806.34M376.70 802.90L372.66 801.59" stroke="#ff0000" stroke-width="2.3" stroke-linecap="round" fill="none"/><path d="M347.05 798.65a1.65 1.65 0 1 0 3.30 0a1.65 1.65 0 1 0 -3.30 0M351.09 801.59a1.65 1.65 0 1 0 3.30 0a1.65 1.65 0 1 0 -3.30 0M349.55 806.34a1.65 1.65 0 1 0 3.30 0a1.65 1.65 0 1 0 -3.30 0M344.55 806.34a1.65 1.65 0 1 0 3.30 0a1.65 1.65 0 1 0 -3.30 0M343.01 801.59a1.65 1.65 0 1 0 3.30 0a1.65 1.65 0 1 0 -3.30 0M361.05 798.65a1.65 1.65 0 1 0 3.30 0a1.65 1.65 0 1 0 -3.30 0M365.09 801.59a1.65 1.65 0 1 0 3.30 0a1.65 1.65 0 1 0 -3.30 0M363.55 806.34a1.65 1.65 0 1 0 3.30 0a1.65 1.65 0 1 0 -3.30 0M358.55 806.34a1.65 1.65 0 1 0 3.30 0a1.65 1.65 0 1 0 -3.30 0M357.01 801.59a1.65 1.65 0 1 0 3.30 0a1.65 1.65 0 1 0 -3.30 0M375.05 798.65a1.65 1.65 0 1 0 3.30 0a1.65 1.65 0 1 0 -3.30 0M379.09 801.59a1.65 1.65 0 1 0 3.30 0a1.65 1.65 0 1 0 -3.30 0M377.55 806.34a1.65 1.65 0 1 0 3.30 0a1.65 1.65 0 1 0 -3.30 0M372.55 806.34a1.65 1.65 0 1 0 3.30 0a1.65 1.65 0 1 0 -3.30 0M371.01 801.59a1.65 1.65 0 1 0 3.30 0a1.65 1.65 0 1 0 -3.30 0" fill="#ff0000"/>
<path d="M356.00 825.90L356.00 821.65M356.00 825.90L360.04 824.59M356.00 825.90L358.50 829.34M356.00 825.90L353.50 829.34M356.00 825.90L351.96 824.59M370.00 825.90L370.00 821.65M370.00 825.90L374.04 824.59M370.00 825.90L372.50 829.34M370.00 825.90L367.50 829.34M370.00 825.90L365.96 824.59" stroke="#0000ff" stroke-width="2.3" stroke-linecap="round" fill="none"/><path d="M354.35 821.65a1.65 1.65 0 1 0 3.30 0a1.65 1.65 0 1 0 -3.30 0M358.39 824.59a1.65 1.65 0 1 0 3.30 0a1.65 1.65 0 1 0 -3.30 0M356.85 829.34a1.65 1.65 0 1 0 3.30 0a1.65 1.65 0 1 0 -3.30 0M351.85 829.34a1.65 1.65 0 1 0 3.30 0a1.65 1.65 0 1 0 -3.30 0M350.31 824.59a1.65 1.65 0 1 0 3.30 0a1.65 1.65 0 1 0 -3.30 0M368.35 821.65a1.65 1.65 0 1 0 3.30 0a1.65 1.65 0 1 0 -3.30 0M372.39 824.59a1.65 1.65 0 1 0 3.30 0a1.65 1.65 0 1 0 -3.30 0M370.85 829.34a1.65 1.65 0 1 0 3.30 0a1.65 1.65 0 1 0 -3.30 0M365.85 829.34a1.65 1.65 0 1 0 3.30 0a1.65 1.65 0 1 0 -3.30 0M364.31 824.59a1.65 1.65 0 1 0 3.30 0a1.65 1.65 0 1 0 -3.30 0" fill="#0000ff"/>
<path d="M411.20 731.00L411.20 726.75M411.20 731.00L415.24 729.69M411.20 731.00L413.70 734.44M411.20 731.00L408.70 734.44M411.20 731.00L407.16 729.69M425.20 731.00L425.20 726.75M425.20 731.00L429.24 729.69M425.20 731.00L427.70 734.44M425.20 731.00L422.70 734.44M425.20 731.00L421.16 729.69M439.20 731.00L439.20 726.75M439.20 731.00L443.24 729.69M439.20 731.00L441.70 734.44M439.20 731.00L436.70 734.44M439.20 731.00L435.16 729.69M453.20 731.00L453.20 726.75M453.20 731.00L457.24 729.69M453.20 731.00L455.70 734.44M453.20 731.00L450.70 734.44M453.20 731.00L449.16 729.69" stroke="#ff0000" stroke-width="2.3" stroke-linecap="round" fill="none"/><path d="M409.55 726.75a1.65 1.65 0 1 0 3.30 0a1.65 1.65 0 1 0 -3.30 0M413.59 729.69a1.65 1.65 0 1 0 3.30 0a1.65 1.65 0 1 0 -3.30 0M412.05 734.44a1.65 1.65 0 1 0 3.30 0a1.65 1.65 0 1 0 -3.30 0M407.05 734.44a1.65 1.65 0 1 0 3.30 0a1.65 1.65 0 1 0 -3.30 0M405.51 729.69a1.65 1.65 0 1 0 3.30 0a1.65 1.65 0 1 0 -3.30 0M423.55 726.75a1.65 1.65 0 1 0 3.30 0a1.65 1.65 0 1 0 -3.30 0M427.59 729.69a1.65 1.65 0 1 0 3.30 0a1.65 1.65 0 1 0 -3.30 0M426.05 734.44a1.65 1.65 0 1 0 3.30 0a1.65 1.65 0 1 0 -3.30 0M421.05 734.44a1.65 1.65 0 1 0 3.30 0a1.65 1.65 0 1 0 -3.30 0M419.51 729.69a1.65 1.65 0 1 0 3.30 0a1.65 1.65 0 1 0 -3.30 0M437.55 726.75a1.65 1.65 0 1 0 3.30 0a1.65 1.65 0 1 0 -3.30 0M441.59 729.69a1.65 1.65 0 1 0 3.30 0a1.65 1.65 0 1 0 -3.30 0M440.05 734.44a1.65 1.65 0 1 0 3.30 0a1.65 1.65 0 1 0 -3.30 0M435.05 734.44a1.65 1.65 0 1 0 3.30 0a1.65 1.65 0 1 0 -3.30 0M433.51 729.69a1.65 1.65 0 1 0 3.30 0a1.65 1.65 0 1 0 -3.30 0M451.55 726.75a1.65 1.65 0 1 0 3.30 0a1.65 1.65 0 1 0 -3.30 0M455.59 729.69a1.65 1.65 0 1 0 3.30 0a1.65 1.65 0 1 0 -3.30 0M454.05 734.44a1.65 1.65 0 1 0 3.30 0a1.65 1.65 0 1 0 -3.30 0M449.05 734.44a1.65 1.65 0 1 0 3.30 0a1.65 1.65 0 1 0 -3.30 0M447.51 729.69a1.65 1.65 0 1 0 3.30 0a1.65 1.65 0 1 0 -3.30 0" fill="#ff0000"/>
<path d="M411.20 750.50L411.20 746.25M411.20 750.50L415.24 749.19M411.20 750.50L413.70 753.94M411.20 750.50L408.70 753.94M411.20 750.50L407.16 749.19M425.20 750.50L425.20 746.25M425.20 750.50L429.24 749.19M425.20 750.50L427.70 753.94M425.20 750.50L422.70 753.94M425.20 750.50L421.16 749.19M439.20 750.50L439.20 746.25M439.20 750.50L443.24 749.19M439.20 750.50L441.70 753.94M439.20 750.50L436.70 753.94M439.20 750.50L435.16 749.19M453.20 750.50L453.20 746.25M453.20 750.50L457.24 749.19M453.20 750.50L455.70 753.94M453.20 750.50L450.70 753.94M453.20 750.50L449.16 749.19" stroke="#0000ff" stroke-width="2.3" stroke-linecap="round" fill="none"/><path d="M409.55 746.25a1.65 1.65 0 1 0 3.30 0a1.65 1.65 0 1 0 -3.30 0M413.59 749.19a1.65 1.65 0 1 0 3.30 0a1.65 1.65 0 1 0 -3.30 0M412.05 753.94a1.65 1.65 0 1 0 3.30 0a1.65 1.65 0 1 0 -3.30 0M407.05 753.94a1.65 1.65 0 1 0 3.30 0a1.65 1.65 0 1 0 -3.30 0M405.51 749.19a1.65 1.65 0 1 0 3.30 0a1.65 1.65 0 1 0 -3.30 0M423.55 746.25a1.65 1.65 0 1 0 3.30 0a1.65 1.65 0 1 0 -3.30 0M427.59 749.19a1.65 1.65 0 1 0 3.30 0a1.65 1.65 0 1 0 -3.30 0M426.05 753.94a1.65 1.65 0 1 0 3.30 0a1.65 1.65 0 1 0 -3.30 0M421.05 753.94a1.65 1.65 0 1 0 3.30 0a1.65 1.65 0 1 0 -3.30 0M419.51 749.19a1.65 1.65 0 1 0 3.30 0a1.65 1.65 0 1 0 -3.30 0M437.55 746.25a1.65 1.65 0 1 0 3.30 0a1.65 1.65 0 1 0 -3.30 0M441.59 749.19a1.65 1.65 0 1 0 3.30 0a1.65 1.65 0 1 0 -3.30 0M440.05 753.94a1.65 1.65 0 1 0 3.30 0a1.65 1.65 0 1 0 -3.30 0M435.05 753.94a1.65 1.65 0 1 0 3.30 0a1.65 1.65 0 1 0 -3.30 0M433.51 749.19a1.65 1.65 0 1 0 3.30 0a1.65 1.65 0 1 0 -3.30 0M451.55 746.25a1.65 1.65 0 1 0 3.30 0a1.65 1.65 0 1 0 -3.30 0M455.59 749.19a1.65 1.65 0 1 0 3.30 0a1.65 1.65 0 1 0 -3.30 0M454.05 753.94a1.65 1.65 0 1 0 3.30 0a1.65 1.65 0 1 0 -3.30 0M449.05 753.94a1.65 1.65 0 1 0 3.30 0a1.65 1.65 0 1 0 -3.30 0M447.51 749.19a1.65 1.65 0 1 0 3.30 0a1.65 1.65 0 1 0 -3.30 0" fill="#0000ff"/>
<path d="M484.20 693.80L484.20 689.55M484.20 693.80L488.24 692.49M484.20 693.80L486.70 697.24M484.20 693.80L481.70 697.24M484.20 693.80L480.16 692.49M498.20 693.80L498.20 689.55M498.20 693.80L502.24 692.49M498.20 693.80L500.70 697.24M498.20 693.80L495.70 697.24M498.20 693.80L494.16 692.49M512.20 693.80L512.20 689.55M512.20 693.80L516.24 692.49M512.20 693.80L514.70 697.24M512.20 693.80L509.70 697.24M512.20 693.80L508.16 692.49M526.20 693.80L526.20 689.55M526.20 693.80L530.24 692.49M526.20 693.80L528.70 697.24M526.20 693.80L523.70 697.24M526.20 693.80L522.16 692.49" stroke="#ff0000" stroke-width="2.3" stroke-linecap="round" fill="none"/><path d="M482.55 689.55a1.65 1.65 0 1 0 3.30 0a1.65 1.65 0 1 0 -3.30 0M486.59 692.49a1.65 1.65 0 1 0 3.30 0a1.65 1.65 0 1 0 -3.30 0M485.05 697.24a1.65 1.65 0 1 0 3.30 0a1.65 1.65 0 1 0 -3.30 0M480.05 697.24a1.65 1.65 0 1 0 3.30 0a1.65 1.65 0 1 0 -3.30 0M478.51 692.49a1.65 1.65 0 1 0 3.30 0a1.65 1.65 0 1 0 -3.30 0M496.55 689.55a1.65 1.65 0 1 0 3.30 0a1.65 1.65 0 1 0 -3.30 0M500.59 692.49a1.65 1.65 0 1 0 3.30 0a1.65 1.65 0 1 0 -3.30 0M499.05 697.24a1.65 1.65 0 1 0 3.30 0a1.65 1.65 0 1 0 -3.30 0M494.05 697.24a1.65 1.65 0 1 0 3.30 0a1.65 1.65 0 1 0 -3.30 0M492.51 692.49a1.65 1.65 0 1 0 3.30 0a1.65 1.65 0 1 0 -3.30 0M510.55 689.55a1.65 1.65 0 1 0 3.30 0a1.65 1.65 0 1 0 -3.30 0M514.59 692.49a1.65 1.65 0 1 0 3.30 0a1.65 1.65 0 1 0 -3.30 0M513.05 697.24a1.65 1.65 0 1 0 3.30 0a1.65 1.65 0 1 0 -3.30 0M508.05 697.24a1.65 1.65 0 1 0 3.30 0a1.65 1.65 0 1 0 -3.30 0M506.51 692.49a1.65 1.65 0 1 0 3.30 0a1.65 1.65 0 1 0 -3.30 0M524.55 689.55a1.65 1.65 0 1 0 3.30 0a1.65 1.65 0 1 0 -3.30 0M528.59 692.49a1.65 1.65 0 1 0 3.30 0a1.65 1.65 0 1 0 -3.30 0M527.05 697.24a1.65 1.65 0 1 0 3.30 0a1.65 1.65 0 1 0 -3.30 0M522.05 697.24a1.65 1.65 0 1 0 3.30 0a1.65 1.65 0 1 0 -3.30 0M520.51 692.49a1.65 1.65 0 1 0 3.30 0a1.65 1.65 0 1 0 -3.30 0" fill="#ff0000"/>
<path d="M484.20 713.70L484.20 709.45M484.20 713.70L488.24 712.39M484.20 713.70L486.70 717.14M484.20 713.70L481.70 717.14M484.20 713.70L480.16 712.39M498.20 713.70L498.20 709.45M498.20 713.70L502.24 712.39M498.20 713.70L500.70 717.14M498.20 713.70L495.70 717.14M498.20 713.70L494.16 712.39M512.20 713.70L512.20 709.45M512.20 713.70L516.24 712.39M512.20 713.70L514.70 717.14M512.20 713.70L509.70 717.14M512.20 713.70L508.16 712.39M526.20 713.70L526.20 709.45M526.20 713.70L530.24 712.39M526.20 713.70L528.70 717.14M526.20 713.70L523.70 717.14M526.20 713.70L522.16 712.39" stroke="#0000ff" stroke-width="2.3" stroke-linecap="round" fill="none"/><path d="M482.55 709.45a1.65 1.65 0 1 0 3.30 0a1.65 1.65 0 1 0 -3.30 0M486.59 712.39a1.65 1.65 0 1 0 3.30 0a1.65 1.65 0 1 0 -3.30 0M485.05 717.14a1.65 1.65 0 1 0 3.30 0a1.65 1.65 0 1 0 -3.30 0M480.05 717.14a1.65 1.65 0 1 0 3.30 0a1.65 1.65 0 1 0 -3.30 0M478.51 712.39a1.65 1.65 0 1 0 3.30 0a1.65 1.65 0 1 0 -3.30 0M496.55 709.45a1.65 1.65 0 1 0 3.30 0a1.65 1.65 0 1 0 -3.30 0M500.59 712.39a1.65 1.65 0 1 0 3.30 0a1.65 1.65 0 1 0 -3.30 0M499.05 717.14a1.65 1.65 0 1 0 3.30 0a1.65 1.65 0 1 0 -3.30 0M494.05 717.14a1.65 1.65 0 1 0 3.30 0a1.65 1.65 0 1 0 -3.30 0M492.51 712.39a1.65 1.65 0 1 0 3.30 0a1.65 1.65 0 1 0 -3.30 0M510.55 709.45a1.65 1.65 0 1 0 3.30 0a1.65 1.65 0 1 0 -3.30 0M514.59 712.39a1.65 1.65 0 1 0 3.30 0a1.65 1.65 0 1 0 -3.30 0M513.05 717.14a1.65 1.65 0 1 0 3.30 0a1.65 1.65 0 1 0 -3.30 0M508.05 717.14a1.65 1.65 0 1 0 3.30 0a1.65 1.65 0 1 0 -3.30 0M506.51 712.39a1.65 1.65 0 1 0 3.30 0a1.65 1.65 0 1 0 -3.30 0M524.55 709.45a1.65 1.65 0 1 0 3.30 0a1.65 1.65 0 1 0 -3.30 0M528.59 712.39a1.65 1.65 0 1 0 3.30 0a1.65 1.65 0 1 0 -3.30 0M527.05 717.14a1.65 1.65 0 1 0 3.30 0a1.65 1.65 0 1 0 -3.30 0M522.05 717.14a1.65 1.65 0 1 0 3.30 0a1.65 1.65 0 1 0 -3.30 0M520.51 712.39a1.65 1.65 0 1 0 3.30 0a1.65 1.65 0 1 0 -3.30 0" fill="#0000ff"/>
<path d="M1003.70 759.80L1003.70 755.55M1003.70 759.80L1007.74 758.49M1003.70 759.80L1006.20 763.24M1003.70 759.80L1001.20 763.24M1003.70 759.80L999.66 758.49" stroke="#7030a0" stroke-width="2.3" stroke-linecap="round" fill="none"/><path d="M1002.05 755.55a1.65 1.65 0 1 0 3.30 0a1.65 1.65 0 1 0 -3.30 0M1006.09 758.49a1.65 1.65 0 1 0 3.30 0a1.65 1.65 0 1 0 -3.30 0M1004.55 763.24a1.65 1.65 0 1 0 3.30 0a1.65 1.65 0 1 0 -3.30 0M999.55 763.24a1.65 1.65 0 1 0 3.30 0a1.65 1.65 0 1 0 -3.30 0M998.01 758.49a1.65 1.65 0 1 0 3.30 0a1.65 1.65 0 1 0 -3.30 0" fill="#7030a0"/>
<path d="M981.40 781.40L981.40 777.15M981.40 781.40L985.44 780.09M981.40 781.40L983.90 784.84M981.40 781.40L978.90 784.84M981.40 781.40L977.36 780.09M995.40 781.40L995.40 777.15M995.40 781.40L999.44 780.09M995.40 781.40L997.90 784.84M995.40 781.40L992.90 784.84M995.40 781.40L991.36 780.09M1009.40 781.40L1009.40 777.15M1009.40 781.40L1013.44 780.09M1009.40 781.40L1011.90 784.84M1009.40 781.40L1006.90 784.84M1009.40 781.40L1005.36 780.09M1023.40 781.40L1023.40 777.15M1023.40 781.40L1027.44 780.09M1023.40 781.40L1025.90 784.84M1023.40 781.40L1020.90 784.84M1023.40 781.40L1019.36 780.09" stroke="#ff0000" stroke-width="2.3" stroke-linecap="round" fill="none"/><path d="M979.75 777.15a1.65 1.65 0 1 0 3.30 0a1.65 1.65 0 1 0 -3.30 0M983.79 780.09a1.65 1.65 0 1 0 3.30 0a1.65 1.65 0 1 0 -3.30 0M982.25 784.84a1.65 1.65 0 1 0 3.30 0a1.65 1.65 0 1 0 -3.30 0M977.25 784.84a1.65 1.65 0 1 0 3.30 0a1.65 1.65 0 1 0 -3.30 0M975.71 780.09a1.65 1.65 0 1 0 3.30 0a1.65 1.65 0 1 0 -3.30 0M993.75 777.15a1.65 1.65 0 1 0 3.30 0a1.65 1.65 0 1 0 -3.30 0M997.79 780.09a1.65 1.65 0 1 0 3.30 0a1.65 1.65 0 1 0 -3.30 0M996.25 784.84a1.65 1.65 0 1 0 3.30 0a1.65 1.65 0 1 0 -3.30 0M991.25 784.84a1.65 1.65 0 1 0 3.30 0a1.65 1.65 0 1 0 -3.30 0M989.71 780.09a1.65 1.65 0 1 0 3.30 0a1.65 1.65 0 1 0 -3.30 0M1007.75 777.15a1.65 1.65 0 1 0 3.30 0a1.65 1.65 0 1 0 -3.30 0M1011.79 780.09a1.65 1.65 0 1 0 3.30 0a1.65 1.65 0 1 0 -3.30 0M1010.25 784.84a1.65 1.65 0 1 0 3.30 0a1.65 1.65 0 1 0 -3.30 0M1005.25 784.84a1.65 1.65 0 1 0 3.30 0a1.65 1.65 0 1 0 -3.30 0M1003.71 780.09a1.65 1.65 0 1 0 3.30 0a1.65 1.65 0 1 0 -3.30 0M1021.75 777.15a1.65 1.65 0 1 0 3.30 0a1.65 1.65 0 1 0 -3.30 0M1025.79 780.09a1.65 1.65 0 1 0 3.30 0a1.65 1.65 0 1 0 -3.30 0M1024.25 784.84a1.65 1.65 0 1 0 3.30 0a1.65 1.65 0 1 0 -3.30 0M1019.25 784.84a1.65 1.65 0 1 0 3.30 0a1.65 1.65 0 1 0 -3.30 0M1017.71 780.09a1.65 1.65 0 1 0 3.30 0a1.65 1.65 0 1 0 -3.30 0" fill="#ff0000"/>
<path d="M1058.20 662.40L1058.20 658.15M1058.20 662.40L1062.24 661.09M1058.20 662.40L1060.70 665.84M1058.20 662.40L1055.70 665.84M1058.20 662.40L1054.16 661.09M1072.20 662.40L1072.20 658.15M1072.20 662.40L1076.24 661.09M1072.20 662.40L1074.70 665.84M1072.20 662.40L1069.70 665.84M1072.20 662.40L1068.16 661.09M1086.20 662.40L1086.20 658.15M1086.20 662.40L1090.24 661.09M1086.20 662.40L1088.70 665.84M1086.20 662.40L1083.70 665.84M1086.20 662.40L1082.16 661.09" stroke="#7030a0" stroke-width="2.3" stroke-linecap="round" fill="none"/><path d="M1056.55 658.15a1.65 1.65 0 1 0 3.30 0a1.65 1.65 0 1 0 -3.30 0M1060.59 661.09a1.65 1.65 0 1 0 3.30 0a1.65 1.65 0 1 0 -3.30 0M1059.05 665.84a1.65 1.65 0 1 0 3.30 0a1.65 1.65 0 1 0 -3.30 0M1054.05 665.84a1.65 1.65 0 1 0 3.30 0a1.65 1.65 0 1 0 -3.30 0M1052.51 661.09a1.65 1.65 0 1 0 3.30 0a1.65 1.65 0 1 0 -3.30 0M1070.55 658.15a1.65 1.65 0 1 0 3.30 0a1.65 1.65 0 1 0 -3.30 0M1074.59 661.09a1.65 1.65 0 1 0 3.30 0a1.65 1.65 0 1 0 -3.30 0M1073.05 665.84a1.65 1.65 0 1 0 3.30 0a1.65 1.65 0 1 0 -3.30 0M1068.05 665.84a1.65 1.65 0 1 0 3.30 0a1.65 1.65 0 1 0 -3.30 0M1066.51 661.09a1.65 1.65 0 1 0 3.30 0a1.65 1.65 0 1 0 -3.30 0M1084.55 658.15a1.65 1.65 0 1 0 3.30 0a1.65 1.65 0 1 0 -3.30 0M1088.59 661.09a1.65 1.65 0 1 0 3.30 0a1.65 1.65 0 1 0 -3.30 0M1087.05 665.84a1.65 1.65 0 1 0 3.30 0a1.65 1.65 0 1 0 -3.30 0M1082.05 665.84a1.65 1.65 0 1 0 3.30 0a1.65 1.65 0 1 0 -3.30 0M1080.51 661.09a1.65 1.65 0 1 0 3.30 0a1.65 1.65 0 1 0 -3.30 0" fill="#7030a0"/>
<path d="M1051.00 684.00L1051.00 679.75M1051.00 684.00L1055.04 682.69M1051.00 684.00L1053.50 687.44M1051.00 684.00L1048.50 687.44M1051.00 684.00L1046.96 682.69M1065.00 684.00L1065.00 679.75M1065.00 684.00L1069.04 682.69M1065.00 684.00L1067.50 687.44M1065.00 684.00L1062.50 687.44M1065.00 684.00L1060.96 682.69M1079.00 684.00L1079.00 679.75M1079.00 684.00L1083.04 682.69M1079.00 684.00L1081.50 687.44M1079.00 684.00L1076.50 687.44M1079.00 684.00L1074.96 682.69M1093.00 684.00L1093.00 679.75M1093.00 684.00L1097.04 682.69M1093.00 684.00L1095.50 687.44M1093.00 684.00L1090.50 687.44M1093.00 684.00L1088.96 682.69" stroke="#ff0000" stroke-width="2.3" stroke-linecap="round" fill="none"/><path d="M1049.35 679.75a1.65 1.65 0 1 0 3.30 0a1.65 1.65 0 1 0 -3.30 0M1053.39 682.69a1.65 1.65 0 1 0 3.30 0a1.65 1.65 0 1 0 -3.30 0M1051.85 687.44a1.65 1.65 0 1 0 3.30 0a1.65 1.65 0 1 0 -3.30 0M1046.85 687.44a1.65 1.65 0 1 0 3.30 0a1.65 1.65 0 1 0 -3.30 0M1045.31 682.69a1.65 1.65 0 1 0 3.30 0a1.65 1.65 0 1 0 -3.30 0M1063.35 679.75a1.65 1.65 0 1 0 3.30 0a1.65 1.65 0 1 0 -3.30 0M1067.39 682.69a1.65 1.65 0 1 0 3.30 0a1.65 1.65 0 1 0 -3.30 0M1065.85 687.44a1.65 1.65 0 1 0 3.30 0a1.65 1.65 0 1 0 -3.30 0M1060.85 687.44a1.65 1.65 0 1 0 3.30 0a1.65 1.65 0 1 0 -3.30 0M1059.31 682.69a1.65 1.65 0 1 0 3.30 0a1.65 1.65 0 1 0 -3.30 0M1077.35 679.75a1.65 1.65 0 1 0 3.30 0a1.65 1.65 0 1 0 -3.30 0M1081.39 682.69a1.65 1.65 0 1 0 3.30 0a1.65 1.65 0 1 0 -3.30 0M1079.85 687.44a1.65 1.65 0 1 0 3.30 0a1.65 1.65 0 1 0 -3.30 0M1074.85 687.44a1.65 1.65 0 1 0 3.30 0a1.65 1.65 0 1 0 -3.30 0M1073.31 682.69a1.65 1.65 0 1 0 3.30 0a1.65 1.65 0 1 0 -3.30 0M1091.35 679.75a1.65 1.65 0 1 0 3.30 0a1.65 1.65 0 1 0 -3.30 0M1095.39 682.69a1.65 1.65 0 1 0 3.30 0a1.65 1.65 0 1 0 -3.30 0M1093.85 687.44a1.65 1.65 0 1 0 3.30 0a1.65 1.65 0 1 0 -3.30 0M1088.85 687.44a1.65 1.65 0 1 0 3.30 0a1.65 1.65 0 1 0 -3.30 0M1087.31 682.69a1.65 1.65 0 1 0 3.30 0a1.65 1.65 0 1 0 -3.30 0" fill="#ff0000"/>
<path d="M1051.00 705.10L1051.00 700.85M1051.00 705.10L1055.04 703.79M1051.00 705.10L1053.50 708.54M1051.00 705.10L1048.50 708.54M1051.00 705.10L1046.96 703.79M1065.00 705.10L1065.00 700.85M1065.00 705.10L1069.04 703.79M1065.00 705.10L1067.50 708.54M1065.00 705.10L1062.50 708.54M1065.00 705.10L1060.96 703.79M1079.00 705.10L1079.00 700.85M1079.00 705.10L1083.04 703.79M1079.00 705.10L1081.50 708.54M1079.00 705.10L1076.50 708.54M1079.00 705.10L1074.96 703.79M1093.00 705.10L1093.00 700.85M1093.00 705.10L1097.04 703.79M1093.00 705.10L1095.50 708.54M1093.00 705.10L1090.50 708.54M1093.00 705.10L1088.96 703.79" stroke="#0000ff" stroke-width="2.3" stroke-linecap="round" fill="none"/><path d="M1049.35 700.85a1.65 1.65 0 1 0 3.30 0a1.65 1.65 0 1 0 -3.30 0M1053.39 703.79a1.65 1.65 0 1 0 3.30 0a1.65 1.65 0 1 0 -3.30 0M1051.85 708.54a1.65 1.65 0 1 0 3.30 0a1.65 1.65 0 1 0 -3.30 0M1046.85 708.54a1.65 1.65 0 1 0 3.30 0a1.65 1.65 0 1 0 -3.30 0M1045.31 703.79a1.65 1.65 0 1 0 3.30 0a1.65 1.65 0 1 0 -3.30 0M1063.35 700.85a1.65 1.65 0 1 0 3.30 0a1.65 1.65 0 1 0 -3.30 0M1067.39 703.79a1.65 1.65 0 1 0 3.30 0a1.65 1.65 0 1 0 -3.30 0M1065.85 708.54a1.65 1.65 0 1 0 3.30 0a1.65 1.65 0 1 0 -3.30 0M1060.85 708.54a1.65 1.65 0 1 0 3.30 0a1.65 1.65 0 1 0 -3.30 0M1059.31 703.79a1.65 1.65 0 1 0 3.30 0a1.65 1.65 0 1 0 -3.30 0M1077.35 700.85a1.65 1.65 0 1 0 3.30 0a1.65 1.65 0 1 0 -3.30 0M1081.39 703.79a1.65 1.65 0 1 0 3.30 0a1.65 1.65 0 1 0 -3.30 0M1079.85 708.54a1.65 1.65 0 1 0 3.30 0a1.65 1.65 0 1 0 -3.30 0M1074.85 708.54a1.65 1.65 0 1 0 3.30 0a1.65 1.65 0 1 0 -3.30 0M1073.31 703.79a1.65 1.65 0 1 0 3.30 0a1.65 1.65 0 1 0 -3.30 0M1091.35 700.85a1.65 1.65 0 1 0 3.30 0a1.65 1.65 0 1 0 -3.30 0M1095.39 703.79a1.65 1.65 0 1 0 3.30 0a1.65 1.65 0 1 0 -3.30 0M1093.85 708.54a1.65 1.65 0 1 0 3.30 0a1.65 1.65 0 1 0 -3.30 0M1088.85 708.54a1.65 1.65 0 1 0 3.30 0a1.65 1.65 0 1 0 -3.30 0M1087.31 703.79a1.65 1.65 0 1 0 3.30 0a1.65 1.65 0 1 0 -3.30 0" fill="#0000ff"/>
<path d="M1125.50 645.40L1125.50 641.15M1125.50 645.40L1129.54 644.09M1125.50 645.40L1128.00 648.84M1125.50 645.40L1123.00 648.84M1125.50 645.40L1121.46 644.09M1139.50 645.40L1139.50 641.15M1139.50 645.40L1143.54 644.09M1139.50 645.40L1142.00 648.84M1139.50 645.40L1137.00 648.84M1139.50 645.40L1135.46 644.09M1153.50 645.40L1153.50 641.15M1153.50 645.40L1157.54 644.09M1153.50 645.40L1156.00 648.84M1153.50 645.40L1151.00 648.84M1153.50 645.40L1149.46 644.09M1167.50 645.40L1167.50 641.15M1167.50 645.40L1171.54 644.09M1167.50 645.40L1170.00 648.84M1167.50 645.40L1165.00 648.84M1167.50 645.40L1163.46 644.09" stroke="#ff0000" stroke-width="2.3" stroke-linecap="round" fill="none"/><path d="M1123.85 641.15a1.65 1.65 0 1 0 3.30 0a1.65 1.65 0 1 0 -3.30 0M1127.89 644.09a1.65 1.65 0 1 0 3.30 0a1.65 1.65 0 1 0 -3.30 0M1126.35 648.84a1.65 1.65 0 1 0 3.30 0a1.65 1.65 0 1 0 -3.30 0M1121.35 648.84a1.65 1.65 0 1 0 3.30 0a1.65 1.65 0 1 0 -3.30 0M1119.81 644.09a1.65 1.65 0 1 0 3.30 0a1.65 1.65 0 1 0 -3.30 0M1137.85 641.15a1.65 1.65 0 1 0 3.30 0a1.65 1.65 0 1 0 -3.30 0M1141.89 644.09a1.65 1.65 0 1 0 3.30 0a1.65 1.65 0 1 0 -3.30 0M1140.35 648.84a1.65 1.65 0 1 0 3.30 0a1.65 1.65 0 1 0 -3.30 0M1135.35 648.84a1.65 1.65 0 1 0 3.30 0a1.65 1.65 0 1 0 -3.30 0M1133.81 644.09a1.65 1.65 0 1 0 3.30 0a1.65 1.65 0 1 0 -3.30 0M1151.85 641.15a1.65 1.65 0 1 0 3.30 0a1.65 1.65 0 1 0 -3.30 0M1155.89 644.09a1.65 1.65 0 1 0 3.30 0a1.65 1.65 0 1 0 -3.30 0M1154.35 648.84a1.65 1.65 0 1 0 3.30 0a1.65 1.65 0 1 0 -3.30 0M1149.35 648.84a1.65 1.65 0 1 0 3.30 0a1.65 1.65 0 1 0 -3.30 0M1147.81 644.09a1.65 1.65 0 1 0 3.30 0a1.65 1.65 0 1 0 -3.30 0M1165.85 641.15a1.65 1.65 0 1 0 3.30 0a1.65 1.65 0 1 0 -3.30 0M1169.89 644.09a1.65 1.65 0 1 0 3.30 0a1.65 1.65 0 1 0 -3.30 0M1168.35 648.84a1.65 1.65 0 1 0 3.30 0a1.65 1.65 0 1 0 -3.30 0M1163.35 648.84a1.65 1.65 0 1 0 3.30 0a1.65 1.65 0 1 0 -3.30 0M1161.81 644.09a1.65 1.65 0 1 0 3.30 0a1.65 1.65 0 1 0 -3.30 0" fill="#ff0000"/>
<path d="M1125.50 666.70L1125.50 662.45M1125.50 666.70L1129.54 665.39M1125.50 666.70L1128.00 670.14M1125.50 666.70L1123.00 670.14M1125.50 666.70L1121.46 665.39M1139.50 666.70L1139.50 662.45M1139.50 666.70L1143.54 665.39M1139.50 666.70L1142.00 670.14M1139.50 666.70L1137.00 670.14M1139.50 666.70L1135.46 665.39M1153.50 666.70L1153.50 662.45M1153.50 666.70L1157.54 665.39M1153.50 666.70L1156.00 670.14M1153.50 666.70L1151.00 670.14M1153.50 666.70L1149.46 665.39M1167.50 666.70L1167.50 662.45M1167.50 666.70L1171.54 665.39M1167.50 666.70L1170.00 670.14M1167.50 666.70L1165.00 670.14M1167.50 666.70L1163.46 665.39" stroke="#0000ff" stroke-width="2.3" stroke-linecap="round" fill="none"/><path d="M1123.85 662.45a1.65 1.65 0 1 0 3.30 0a1.65 1.65 0 1 0 -3.30 0M1127.89 665.39a1.65 1.65 0 1 0 3.30 0a1.65 1.65 0 1 0 -3.30 0M1126.35 670.14a1.65 1.65 0 1 0 3.30 0a1.65 1.65 0 1 0 -3.30 0M1121.35 670.14a1.65 1.65 0 1 0 3.30 0a1.65 1.65 0 1 0 -3.30 0M1119.81 665.39a1.65 1.65 0 1 0 3.30 0a1.65 1.65 0 1 0 -3.30 0M1137.85 662.45a1.65 1.65 0 1 0 3.30 0a1.65 1.65 0 1 0 -3.30 0M1141.89 665.39a1.65 1.65 0 1 0 3.30 0a1.65 1.65 0 1 0 -3.30 0M1140.35 670.14a1.65 1.65 0 1 0 3.30 0a1.65 1.65 0 1 0 -3.30 0M1135.35 670.14a1.65 1.65 0 1 0 3.30 0a1.65 1.65 0 1 0 -3.30 0M1133.81 665.39a1.65 1.65 0 1 0 3.30 0a1.65 1.65 0 1 0 -3.30 0M1151.85 662.45a1.65 1.65 0 1 0 3.30 0a1.65 1.65 0 1 0 -3.30 0M1155.89 665.39a1.65 1.65 0 1 0 3.30 0a1.65 1.65 0 1 0 -3.30 0M1154.35 670.14a1.65 1.65 0 1 0 3.30 0a1.65 1.65 0 1 0 -3.30 0M1149.35 670.14a1.65 1.65 0 1 0 3.30 0a1.65 1.65 0 1 0 -3.30 0M1147.81 665.39a1.65 1.65 0 1 0 3.30 0a1.65 1.65 0 1 0 -3.30 0M1165.85 662.45a1.65 1.65 0 1 0 3.30 0a1.65 1.65 0 1 0 -3.30 0M1169.89 665.39a1.65 1.65 0 1 0 3.30 0a1.65 1.65 0 1 0 -3.30 0M1168.35 670.14a1.65 1.65 0 1 0 3.30 0a1.65 1.65 0 1 0 -3.30 0M1163.35 670.14a1.65 1.65 0 1 0 3.30 0a1.65 1.65 0 1 0 -3.30 0M1161.81 665.39a1.65 1.65 0 1 0 3.30 0a1.65 1.65 0 1 0 -3.30 0" fill="#0000ff"/>
<path d="M1192.8 655.90H1222.2" stroke="#000000" stroke-width="4.4" stroke-linecap="round"/>
<circle cx="1207.5" cy="655.90" r="5.2" fill="#fff" stroke="#000" stroke-width="4.4"/>
<text transform="translate(1238.89,667.10) scale(1.0085,0.9913)" font-family="Liberation Serif" font-size="31">Pre-bleed</text>
<path d="M1192.8 689.10H1222.2" stroke="#000000" stroke-width="4.4" stroke-linecap="round"/>
<rect x="1201.4" y="682.90" width="12.2" height="12.4" fill="#000000"/>
<text transform="translate(1238.91,700.00) scale(0.9917,1.0364)" font-family="Liberation Serif" font-size="31">ID2 alone</text>
<path d="M1192.8 722.30H1222.2" stroke="#0000ff" stroke-width="4.4" stroke-linecap="round"/>
<rect x="1201.4" y="716.10" width="12.2" height="12.4" fill="#0000ff"/>
<text transform="translate(1239.28,732.90) scale(1.0181,1.0000)" font-family="Liberation Serif" font-size="31">ID2 + Alum</text>
<path d="M1192.8 755.60H1222.2" stroke="#f44040" stroke-width="4.4" stroke-linecap="round"/>
<rect x="1201.4" y="749.40" width="12.2" height="12.4" fill="#f44040"/>
<text transform="translate(1239.30,766.30) scale(1.0017,1.0429)" font-family="Liberation Serif" font-size="31">ID2+GLA-SE</text>
<rect x="596.30" y="1351.00" width="67.50" height="55.70" fill="#ffc000"/>
<rect x="732.00" y="1351.00" width="66.80" height="55.70" fill="#ffff00"/>
<rect x="798.80" y="1351.00" width="68.20" height="55.70" fill="#ffff00"/>
<rect x="867.00" y="1351.00" width="66.70" height="55.70" fill="#ffff00"/>
<rect x="933.70" y="1351.00" width="67.90" height="55.70" fill="#fff2cc"/>
<rect x="1001.60" y="1351.00" width="67.50" height="55.70" fill="#fff2cc"/>
<rect x="1069.10" y="1351.00" width="67.30" height="55.70" fill="#fff2cc"/>
<rect x="1204.30" y="1351.00" width="67.30" height="55.70" fill="#ffff00"/>
<rect x="1340.10" y="1351.00" width="67.40" height="55.70" fill="#fff2cc"/>
<rect x="596.30" y="1406.70" width="67.50" height="56.10" fill="#ff0000"/>
<rect x="663.80" y="1406.70" width="68.20" height="56.10" fill="#ffff00"/>
<rect x="732.00" y="1406.70" width="66.80" height="56.10" fill="#ffc000"/>
<rect x="798.80" y="1406.70" width="68.20" height="56.10" fill="#ffc000"/>
<rect x="867.00" y="1406.70" width="66.70" height="56.10" fill="#fff2cc"/>
<rect x="933.70" y="1406.70" width="67.90" height="56.10" fill="#ffff00"/>
<rect x="1001.60" y="1406.70" width="67.50" height="56.10" fill="#ff6600"/>
<rect x="1069.10" y="1406.70" width="67.30" height="56.10" fill="#ffff00"/>
<rect x="1136.40" y="1406.70" width="67.90" height="56.10" fill="#ffc000"/>
<rect x="1204.30" y="1406.70" width="67.30" height="56.10" fill="#ff6600"/>
<rect x="1271.60" y="1406.70" width="68.50" height="56.10" fill="#fff2cc"/>
<rect x="1340.10" y="1406.70" width="67.40" height="56.10" fill="#ffc000"/>
<rect x="184.00" y="1462.80" width="71.00" height="55.80" fill="#fff2cc"/>
<rect x="461.30" y="1462.80" width="67.70" height="55.80" fill="#fff2cc"/>
<rect x="596.30" y="1462.80" width="67.50" height="55.80" fill="#ff6600"/>
<rect x="663.80" y="1462.80" width="68.20" height="55.80" fill="#ffc000"/>
<rect x="732.00" y="1462.80" width="66.80" height="55.80" fill="#ffc000"/>
<rect x="798.80" y="1462.80" width="68.20" height="55.80" fill="#ff6600"/>
<rect x="867.00" y="1462.80" width="66.70" height="55.80" fill="#fff2cc"/>
<rect x="933.70" y="1462.80" width="67.90" height="55.80" fill="#fff2cc"/>
<rect x="1001.60" y="1462.80" width="67.50" height="55.80" fill="#c00000"/>
<rect x="1069.10" y="1462.80" width="67.30" height="55.80" fill="#ffc000"/>
<rect x="1136.40" y="1462.80" width="67.90" height="55.80" fill="#ffc000"/>
<rect x="1204.30" y="1462.80" width="67.30" height="55.80" fill="#ff0000"/>
<rect x="1271.60" y="1462.80" width="68.50" height="55.80" fill="#ffc000"/>
<rect x="1340.10" y="1462.80" width="67.40" height="55.80" fill="#ff6600"/>
<g stroke="#000" stroke-width="2" fill="none">
<path d="M255.00 1213.6V1518.60"/>
<path d="M324.40 1213.6V1518.60"/>
<path d="M393.50 1213.6V1518.60"/>
<path d="M461.30 1213.6V1518.60"/>
<path d="M529.00 1213.6V1518.60"/>
<path d="M663.80 1213.6V1518.60"/>
<path d="M732.00 1213.6V1518.60"/>
<path d="M798.80 1213.6V1518.60"/>
<path d="M867.00 1213.6V1518.60"/>
<path d="M933.70 1213.6V1518.60"/>
<path d="M1069.10 1213.6V1518.60"/>
<path d="M1136.40 1213.6V1518.60"/>
<path d="M1204.30 1213.6V1518.60"/>
<path d="M1271.60 1213.6V1518.60"/>
<path d="M1340.10 1213.6V1518.60"/>
<path d="M184.00 1351.00H1407.50"/>
<path d="M184.00 1406.70H1407.50"/>
<path d="M184.00 1462.80H1407.50"/>
</g>
<g stroke="#000" stroke-width="3.3" fill="none" stroke-linecap="square">
<path d="M184 1154.2H1407.5"/>
<path d="M65 1213.6H1407.5"/>
<path d="M7 1295H1407.5"/>
<path d="M7 1518.6H1407.5"/>
<path d="M65 1351.00H184"/>
<path d="M65 1406.70H184"/>
<path d="M65 1462.80H184"/>
<path d="M184 1154.2V1518.6"/>
<path d="M596.3 1154.2V1518.6"/>
<path d="M1001.6 1154.2V1518.6"/>
<path d="M1407.5 1154.2V1518.6"/>
<path d="M65 1213.6V1518.6"/>
<path d="M7 1295V1518.6"/>
</g>
<text transform="translate(311.68,1197.70) scale(1.0212,0.9760)" font-family="Liberation Serif" font-weight="bold" font-size="35.5">ID2 Alone</text>
<text transform="translate(708.89,1198.10) scale(1.0079,0.9760)" font-family="Liberation Serif" font-weight="bold" font-size="35.5">ID2 + Alum</text>
<text transform="translate(1089.89,1198.10) scale(1.0093,1.0500)" font-family="Liberation Serif" font-weight="bold" font-size="35.5">ID2 + GLA-SE</text>
<text transform="translate(86.52,1249.10) scale(0.9842,1.0526)" font-family="Liberation Serif" font-size="28.5">Mouse</text>
<text transform="translate(109.11,1283.00) scale(0.9929,1.0158)" font-family="Liberation Serif" font-size="28.5">ID</text>
<text transform="translate(104.02,1337.10) scale(0.9947,1.0125)" font-family="Liberation Serif" font-size="35">1st</text>
<text transform="translate(95.37,1393.10) scale(1.0660,0.9615)" font-family="Liberation Serif" font-size="35">2nd</text>
<text transform="translate(98.78,1449.10) scale(1.0591,0.9846)" font-family="Liberation Serif" font-size="35">3rd</text>
<text transform="translate(99.85,1504.40) scale(1.0512,0.9960)" font-family="Liberation Serif" font-size="35">4th</text>
<text transform="translate(48.40,1515.71) scale(0.9960,1.0129) rotate(-90)" font-family="Liberation Serif" font-weight="bold" font-size="35">Immunization</text>
<g font-family="Liberation Serif" font-size="28.5">
<text transform="translate(189.47,1265.80) scale(1.0255,1.0263)">4002</text>
<text transform="translate(259.67,1265.80) scale(1.0255,1.0263)">4004</text>
<text transform="translate(328.92,1265.80) scale(1.0255,1.0263)">4013</text>
<text transform="translate(397.37,1265.80) scale(1.0255,1.0263)">4014</text>
<text transform="translate(465.12,1265.80) scale(1.0255,1.0263)">4015</text>
<text transform="translate(532.62,1265.80) scale(1.0255,1.0263)">4016</text>
<text transform="translate(600.02,1265.80) scale(1.0255,1.0263)">4005</text>
<text transform="translate(667.87,1265.80) scale(1.0255,1.0263)">4007</text>
<text transform="translate(735.37,1265.80) scale(1.0255,1.0263)">4008</text>
<text transform="translate(802.87,1265.80) scale(1.0255,1.0263)">4017</text>
<text transform="translate(870.32,1265.80) scale(1.0255,1.0263)">4019</text>
<text transform="translate(937.62,1265.80) scale(1.0255,1.0263)">4020</text>
<text transform="translate(1005.32,1265.80) scale(1.0255,1.0263)">4009</text>
<text transform="translate(1072.72,1265.80) scale(1.0255,1.0263)">4011</text>
<text transform="translate(1140.32,1265.80) scale(1.0255,1.0263)">4012</text>
<text transform="translate(1207.92,1265.80) scale(1.0255,1.0263)">4022</text>
<text transform="translate(1275.82,1265.80) scale(1.0255,1.0263)">4023</text>
<text transform="translate(1343.77,1265.80) scale(1.0255,1.0263)">4024</text>
</g>
<text transform="translate(1.75,1553.90) scale(1.0760,1.0944)" font-family="Liberation Serif" font-size="27.5">&lt;1:500</text>
<rect x="7.10" y="1571.8" width="58.40" height="51.2" fill="#fff" stroke="#000" stroke-width="3.6"/>
<text transform="translate(183.55,1553.90) scale(1.0514,1.0944)" font-family="Liberation Serif" font-size="27.5">1:501-1:1500</text>
<rect x="255.80" y="1571.8" width="68.60" height="51.2" fill="#fff2cc" stroke="#000" stroke-width="3.6"/>
<text transform="translate(381.84,1553.90) scale(1.0519,1.0944)" font-family="Liberation Serif" font-size="27.5">1:1501-1:2600</text>
<rect x="461.80" y="1571.8" width="66.40" height="51.2" fill="#ffff00" stroke="#000" stroke-width="3.6"/>
<text transform="translate(596.77,1553.90) scale(1.0424,1.0944)" font-family="Liberation Serif" font-size="27.5">1:2601- 1:6000</text>
<rect x="664.20" y="1571.8" width="67.10" height="51.2" fill="#ffc000" stroke="#000" stroke-width="3.6"/>
<text transform="translate(809.77,1553.90) scale(1.0443,1.0944)" font-family="Liberation Serif" font-size="27.5">1:6001-1:9000</text>
<rect x="866.80" y="1571.8" width="67.50" height="51.2" fill="#ff6600" stroke="#000" stroke-width="3.6"/>
<text transform="translate(1015.46,1553.90) scale(1.0483,1.0944)" font-family="Liberation Serif" font-size="27.5">1:9001-1:12000</text>
<rect x="1068.80" y="1571.8" width="67.30" height="51.2" fill="#ff0000" stroke="#000" stroke-width="3.6"/>
<text transform="translate(1266.24,1553.90) scale(1.0558,1.0944)" font-family="Liberation Serif" font-size="27.5">&gt;1:12000</text>
<rect x="1271.00" y="1571.8" width="69.70" height="51.2" fill="#c00000" stroke="#000" stroke-width="3.6"/>
</svg></body></html>
